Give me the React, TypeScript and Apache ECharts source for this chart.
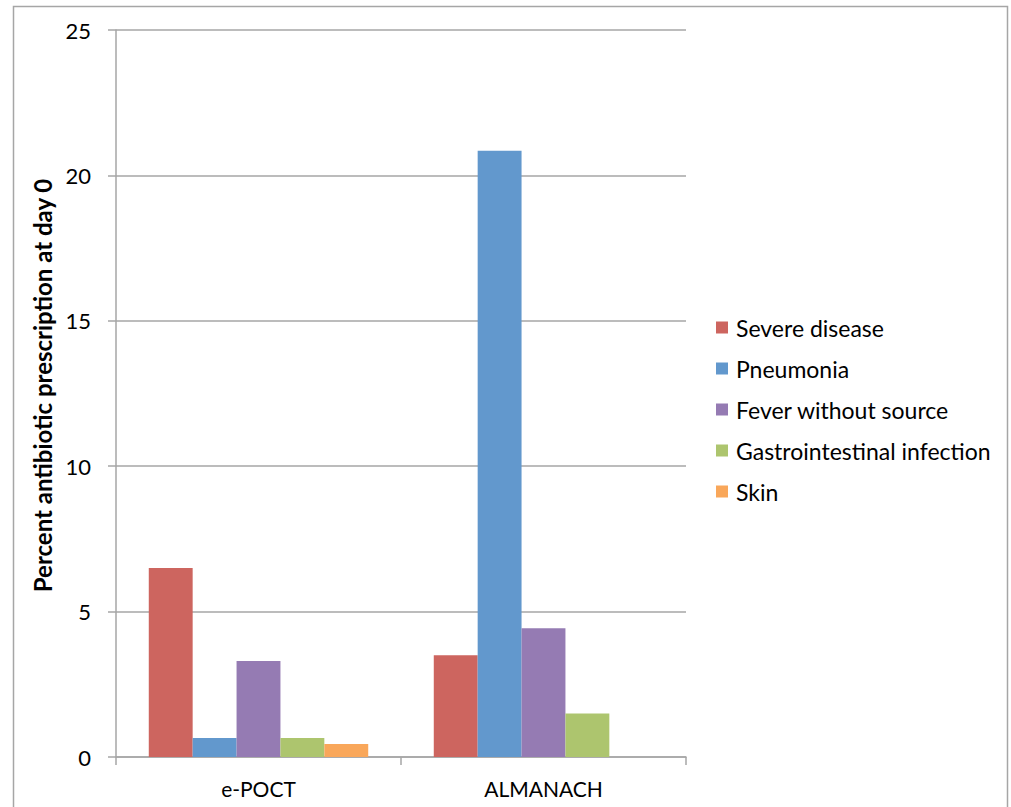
import React, { useEffect, useRef } from "react";
import * as echarts from "echarts";

const categories = ["e-POCT", "ALMANACH"];
const seriesNames = ["Severe disease", "Pneumonia", "Fever without source", "Gastrointestinal infection", "Skin"];
const severeDisease = [6.5, 3.5];
const pneumonia = [0.65, 20.85];
const feverWithoutSource = [3.3, 4.43];
const gastrointestinal = [0.65, 1.5];
const skin = [0.45, 0];
const colors = ["#CD655F", "#6298CD", "#957BB3", "#ADC56E", "#F9A75A"];
const yTicks = { min: 0, max: 25, interval: 5 };

const FONT = "Lato, 'Open Sans', sans-serif";
const GRAY = "#A6A6A6";

export default function App() {
  const ref = useRef<HTMLDivElement>(null);
  useEffect(() => {
    if (!ref.current) return;
    const chart = echarts.init(ref.current, null, { renderer: "svg" });
    const values = [severeDisease, pneumonia, feverWithoutSource, gastrointestinal, skin];
    chart.setOption({
      animation: false,
      textStyle: { fontFamily: FONT },
      graphic: [
        {
          type: "rect",
          shape: { x: 13.5, y: 6.5, width: 994, height: 850 },
          style: { fill: "none", stroke: GRAY, lineWidth: 1.5 },
          silent: true,
        },
      ],
      grid: { left: 116, right: 325, top: 30, bottom: 50 },
      legend: {
        orient: "vertical",
        left: 716,
        top: 316,
        padding: 0,
        itemWidth: 12,
        itemHeight: 12,
        itemGap: 18,
        icon: "rect",
        data: seriesNames,
        textStyle: { fontSize: 23, color: "#000", fontFamily: FONT, lineHeight: 22, padding: [0, 0, 0, 3] },
      },
      xAxis: {
        type: "category",
        data: categories,
        axisLine: { lineStyle: { color: GRAY, width: 1.5 } },
        axisTick: { show: true, length: 8, lineStyle: { color: GRAY, width: 1.5 } },
        axisLabel: { fontSize: 21, color: "#000", margin: 21, fontFamily: FONT },
      },
      yAxis: {
        type: "value",
        min: yTicks.min,
        max: yTicks.max,
        interval: yTicks.interval,
        name: "Percent antibiotic prescription at day 0",
        nameLocation: "middle",
        nameGap: 52,
        nameTextStyle: { fontSize: 24, fontWeight: "bold", color: "#000", fontFamily: FONT, padding: [0, 0, 0, 16] },
        axisLine: { show: true, lineStyle: { color: GRAY, width: 1.5 } },
        axisTick: { show: true, length: 8, lineStyle: { color: GRAY, width: 1.5 } },
        axisLabel: { fontSize: 22, color: "#000", margin: 25, fontFamily: FONT },
        splitLine: { lineStyle: { color: GRAY, width: 1.5 } },
      },
      series: seriesNames.map((name, i) => ({
        name,
        type: "bar",
        data: values[i],
        barGap: "0%",
        barCategoryGap: "23%",
        itemStyle: { color: colors[i] },
      })),
    });
    return () => chart.dispose();
  }, []);
  return (
    <div
      ref={ref}
      style={{ position: "fixed", left: 0, top: 0, width: 1011, height: 807, background: "#fff" }}
    />
  );
}
